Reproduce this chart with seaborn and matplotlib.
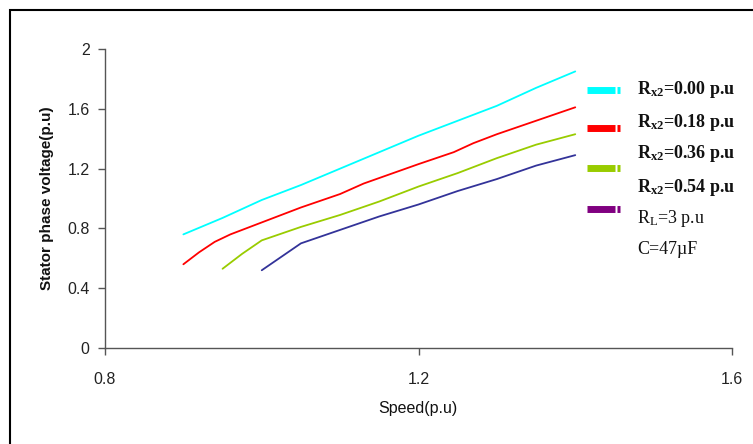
import numpy as np
import pandas as pd
import matplotlib
matplotlib.use("Agg")
import matplotlib.pyplot as plt
import seaborn as sns
from matplotlib.lines import Line2D
from matplotlib.patches import Rectangle

# ---- data ----
speed_000 = [0.90, 0.95, 1.00, 1.05, 1.10, 1.15, 1.20, 1.25, 1.30, 1.35, 1.40]
volt_000 = [0.76, 0.87, 0.99, 1.09, 1.20, 1.31, 1.42, 1.52, 1.62, 1.74, 1.85]

speed_018 = [0.90, 0.92, 0.94, 0.96, 0.98, 1.00, 1.05, 1.10, 1.13, 1.20, 1.245, 1.27, 1.30, 1.35, 1.40]
volt_018 = [0.56, 0.64, 0.71, 0.76, 0.80, 0.84, 0.94, 1.03, 1.10, 1.23, 1.31, 1.37, 1.43, 1.52, 1.61]

speed_036 = [0.95, 0.975, 1.00, 1.05, 1.10, 1.15, 1.20, 1.25, 1.30, 1.35, 1.40]
volt_036 = [0.53, 0.63, 0.72, 0.81, 0.89, 0.98, 1.08, 1.17, 1.27, 1.36, 1.43]

speed_054 = [1.00, 1.05, 1.10, 1.15, 1.20, 1.25, 1.30, 1.35, 1.40]
volt_054 = [0.52, 0.70, 0.79, 0.88, 0.96, 1.05, 1.13, 1.22, 1.29]

series_names = ["Rx2=0.00", "Rx2=0.18", "Rx2=0.36", "Rx2=0.54"]
line_colors = ["#00FFFF", "#FF0000", "#99CC00", "#333399"]
legend_colors = ["#00FFFF", "#FF0000", "#99CC00", "#800080"]

x_ticks = [0.8, 1.2, 1.6]
y_ticks = [0, 0.4, 0.8, 1.2, 1.6, 2]
y_tick_labels = ["0", "0.4", "0.8", "1.2", "1.6", "2"]

frames = []
for name, xs, ys in zip(series_names,
                        [speed_000, speed_018, speed_036, speed_054],
                        [volt_000, volt_018, volt_036, volt_054]):
    frames.append(pd.DataFrame({"speed": xs, "volt": ys, "series": name}))
df = pd.concat(frames, ignore_index=True)

sns.set_theme(style="white")
plt.rcParams['font.family'] = ['Liberation Sans', 'DejaVu Sans']
plt.rcParams['mathtext.fontset'] = 'custom'
plt.rcParams['mathtext.rm'] = 'Liberation Serif'
plt.rcParams['mathtext.it'] = 'Liberation Serif'
plt.rcParams['mathtext.bf'] = 'Liberation Serif:bold'

W, H = 753, 444
fig = plt.figure(figsize=(W / 100, H / 100), dpi=100)
ax = fig.add_axes([105 / W, 1 - 348 / H, (732 - 105) / W, (348 - 49) / H])

sns.lineplot(data=df, x="speed", y="volt", hue="series", hue_order=series_names,
             palette=line_colors, estimator=None, sort=False, legend=False,
             linewidth=1.3, ax=ax)

ax.set_xlim(0.8, 1.6)
ax.set_ylim(0, 2)
ax.set_xticks(x_ticks)
ax.set_xticklabels([str(t) for t in x_ticks])
ax.set_yticks(y_ticks)
ax.set_yticklabels(y_tick_labels)
for s in ["top", "right"]:
    ax.spines[s].set_visible(False)
for s in ["left", "bottom"]:
    ax.spines[s].set_color("#555555")
    ax.spines[s].set_linewidth(1.0)
ax.tick_params(axis="both", which="major", direction="out", length=5, width=1,
               color="#555555", labelsize=11.5, labelcolor="#222222", pad=6,
               bottom=True, left=True)
ax.tick_params(axis="x", pad=12)
ax.set_xlabel("")
ax.set_ylabel("")

fig.text(47 / W, 1 - 198 / H, "Stator phase voltage(p.u)", rotation=90,
         ha="center", va="center", fontsize=11, fontweight="bold", color="#111111")
fig.text(418 / W, 1 - 408 / H, "Speed(p.u)", ha="center", va="center",
         fontsize=11.5, color="#111111")

# outer frame
fig.add_artist(Rectangle((10 / W, -0.05), 1.1, 1 - 10 / H + 0.05,
                         transform=fig.transFigure, fill=False,
                         edgecolor="black", linewidth=1.5))

# custom legend
handle_y = [90, 128, 168, 209]
for c, yy in zip(legend_colors, handle_y):
    fig.add_artist(Line2D([587 / W, 615 / W], [1 - yy / H] * 2, color=c,
                          linewidth=5, solid_capstyle="butt"))
    fig.add_artist(Line2D([617 / W, 620 / W], [1 - yy / H] * 2, color=c,
                          linewidth=5, solid_capstyle="butt"))

label_texts = [r"$\mathbf{R_{x2}}$=0.00 p.u", r"$\mathbf{R_{x2}}$=0.18 p.u",
               r"$\mathbf{R_{x2}}$=0.36 p.u", r"$\mathbf{R_{x2}}$=0.54 p.u",
               r"R$_{\mathrm{L}}$=3 p.u", "C=47µF"]
label_bold = [True, True, True, True, False, False]
label_y = [89, 122, 154, 187, 218, 250]
for t, b, yy in zip(label_texts, label_bold, label_y):
    fig.text(637 / W, 1 - yy / H, t, ha="left", va="center", fontsize=13,
             color="#111111", family=["Liberation Serif", "DejaVu Serif"],
             fontweight="bold" if b else "normal")

fig.savefig("out.png", dpi=100)
